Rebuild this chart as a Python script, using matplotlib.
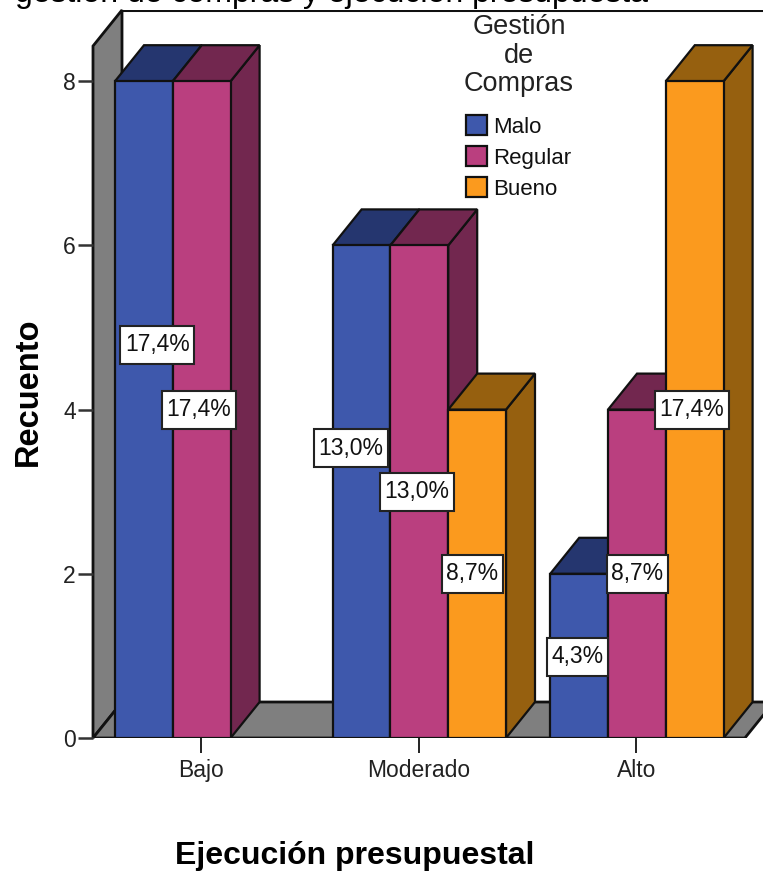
import matplotlib
matplotlib.use('Agg')
import matplotlib.pyplot as plt
from matplotlib.patches import Polygon, Rectangle
import numpy as np

categories = ['Bajo', 'Moderado', 'Alto']
series_names = ['Malo', 'Regular', 'Bueno']
malo = [8, 6, 2]
regular = [8, 6, 4]
bueno = [0, 4, 8]
pct_malo = ['17,4%', '13,0%', '4,3%']
pct_regular = ['17,4%', '13,0%', '8,7%']
pct_bueno = ['', '8,7%', '17,4%']

front_colors = ['#3E58AC', '#BA3F7F', '#FB9A1E']
side_colors = ['#25366F', '#72274F', '#96600F']

W, H = 763, 872
px_x = 217.6        # pixels per category
px_y = 82.1         # pixels per count
bar_w = 57.8 / px_x
dx = 29 / px_x      # 3d depth
dy = 36 / px_y
wall = '#7F7F7F'
edge = '#111111'

plt.rcParams['font.family'] = ['Liberation Sans', 'DejaVu Sans']
fig = plt.figure(figsize=(W / 100, H / 100), dpi=100)
ax = fig.add_axes([93 / W, 1 - 738 / H, (W - 93) / W, 728 / H])
ax.set_xlim((93 - 201) / px_x, (W - 201) / px_x)
ax.set_ylim(0, 728 / px_y)
for s in ax.spines.values():
    s.set_visible(False)

top = 728 / px_y
x0 = ax.get_xlim()[0]
floor_end = 2 + 1.5 * bar_w + 22 / px_x

# walls and floor
ax.add_patch(Polygon([[x0, 0], [x0 + dx, dy], [x0 + dx, top], [x0, top - dy]],
                     fc=wall, ec=edge, lw=2, clip_on=False, zorder=1))
ax.add_patch(Polygon([[x0, 0], [x0 + dx, dy], [floor_end + dx, dy], [floor_end, 0]],
                     fc=wall, ec=edge, lw=2, zorder=1))
ax.plot([x0 + dx, 3], [top - 0.005] * 2, color=edge, lw=2.2, zorder=1)


def bar3d(x, v, i, z):
    if v == 0:
        return
    l, r = x, x + bar_w
    ax.add_patch(Polygon([[r, 0], [r + dx, dy], [r + dx, v + dy], [r, v]],
                         fc=side_colors[i], ec=edge, lw=1.6, zorder=z))
    ax.add_patch(Polygon([[l, v], [l + dx, v + dy], [r + dx, v + dy], [r, v]],
                         fc=side_colors[i], ec=edge, lw=1.6, zorder=z))
    ax.add_patch(Rectangle((l, 0), bar_w, v, fc=front_colors[i], ec=edge, lw=1.6, zorder=z))


values = [malo, regular, bueno]
shift = 0.7 / px_x
for c in range(3):
    for i in range(3):
        bar3d(c + (i - 1.5) * bar_w + shift, values[i][c], i, 3 + c * 3 + (2 - i) * 0.1 + i * 0.2)

# percent boxes, placement follows the reference
labels = [pct_malo, pct_regular, pct_bueno]
label_dx = [[14, -10, -1], [-2, -2, 1], [0, -4, -2]]
label_y = [[4.79, 3.53, 0.99], [4.0, 3.0, 2.0], [0, 2.0, 4.0]]
box_h = 38 / px_y
for i in range(3):
    for c in range(3):
        if labels[i][c]:
            x = c + (i - 1) * bar_w + label_dx[i][c] / px_x
            t = ax.text(x, label_y[i][c], labels[i][c], ha='center', va='center',
                        fontsize=16.5, color='#111111', zorder=21)
            box_w = (len(labels[i][c]) * 13.0 + 9) / px_x
            ax.add_patch(Rectangle((x - box_w / 2, label_y[i][c] - box_h / 2), box_w, box_h,
                                   fc='white', ec='#222222', lw=1.5, zorder=20))

# axes ticks
ax.set_xticks(range(3))
ax.set_xticklabels(categories, fontsize=16.5, color='#222222')
ax.set_yticks([0, 2, 4, 6, 8])
ax.tick_params(axis='x', length=11, width=1.3, color=edge, pad=4)
ax.tick_params(axis='y', length=11, width=1.8, color='#333333', pad=1.5, labelsize=16.5, labelcolor='#222222')
ax.patch.set_alpha(0)

fig.text(175 / W, 1 - 856 / H, 'Ejecución presupuestal', fontsize=23, fontweight='bold',
         va='center', ha='left', color='black')
fig.text(28 / W, 1 - 392 / H, 'Recuento', fontsize=23.5, fontweight='bold', rotation=90,
         va='center', ha='center', color='black')
fig.text(15 / W, 1 - 2 / H, 'gestión de compras y ejecución presupuesta', fontsize=23,
         va='baseline', ha='left', color='black')

# legend
handles = [Rectangle((0, 0), 1, 1, fc=front_colors[i], ec=edge, lw=1.6) for i in range(3)]
leg = ax.legend(handles, series_names, title='Gestión\nde\nCompras', frameon=False,
                loc='upper center', bbox_to_anchor=((519 - 93) / (W - 93), 1.0), fontsize=16,
                title_fontsize=19.5, handlelength=0.95, handleheight=1.0, handletextpad=0.27,
                labelspacing=0.38, borderpad=0.0, borderaxespad=0.19, alignment='center')
leg.set_zorder(30)
leg.get_title().set_color('#222222')
leg.get_title().set_multialignment('center')
leg.get_title().set_linespacing(1.12)
leg._legend_box.sep = 13
for t in leg.get_texts():
    t.set_color('#111111')

fig.savefig('out.png', dpi=100)
